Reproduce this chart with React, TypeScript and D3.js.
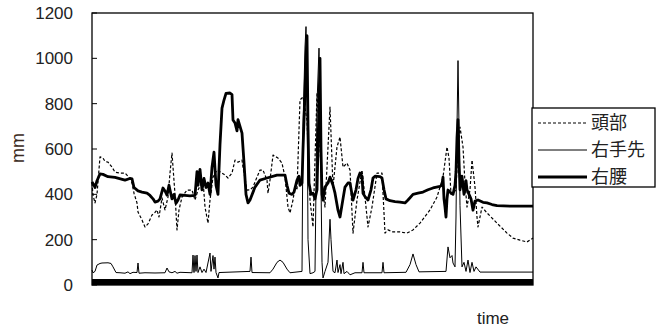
import * as d3 from "d3";

const WIDTH = 665;
const HEIGHT = 329;

// y axis ticks (mm)
const yTicks = [0, 200, 400, 600, 800, 1000, 1200];

// series: [time, mm]
const headData: [number, number][] = [
  [0, 450], [1, 397], [3, 362], [5, 400], [8, 565], [11, 560], [13, 545], [16, 542], [20, 520], [23, 498],
  [28, 494], [33, 494], [38, 470], [40, 450], [42, 405], [45, 362], [46, 322], [50, 287], [53, 256], [56, 270],
  [60, 309], [63, 320], [65, 331], [67, 300], [70, 384], [73, 331], [76, 388], [78, 494], [80, 582], [81, 520],
  [83, 400], [85, 243], [87, 331], [90, 388], [95, 419], [100, 419], [103, 375], [106, 419], [111, 463], [113, 344],
  [116, 273], [118, 375], [121, 476], [125, 507], [130, 494], [133, 485], [136, 472], [140, 494], [143, 551], [146, 542],
  [150, 551], [151, 520], [155, 419], [158, 420], [161, 432], [165, 476], [168, 507], [171, 507], [175, 463], [176, 405],
  [178, 463], [181, 573], [186, 560], [190, 538], [193, 476], [196, 344], [198, 318], [201, 375], [203, 432], [205, 419],
  [208, 816], [211, 830], [215, 728], [218, 375], [221, 256], [225, 847], [230, 432], [233, 344], [238, 785], [241, 432],
  [245, 609], [248, 653], [251, 520], [255, 538], [258, 507], [261, 229], [265, 375], [270, 507], [273, 388], [276, 256],
  [280, 344], [285, 494], [290, 494], [293, 229], [296, 243], [301, 234], [308, 234], [315, 229], [321, 243], [328, 273],
  [338, 331], [345, 388], [351, 476], [355, 609], [357, 560], [359, 400], [361, 405], [364, 420], [366, 600], [368, 697],
  [371, 609], [373, 450], [375, 344], [378, 420], [380, 551], [383, 432], [385, 300], [386, 256], [390, 344], [395, 318],
  [405, 273], [415, 229], [421, 207], [428, 198], [435, 190], [441, 207],
];

const handData: [number, number][] = [
  [0, 66], [1, 54], [3, 60], [5, 88], [8, 95], [10, 97], [16, 98], [19, 95], [21, 80], [24, 55],
  [28, 54], [33, 52], [36, 58], [38, 50], [41, 56], [45, 55], [46, 97], [47, 52], [53, 54], [63, 53],
  [73, 54], [75, 75], [77, 58], [80, 54], [83, 60], [85, 52], [88, 56], [100, 54], [101, 132], [102, 55],
  [103, 130], [104, 60], [105, 132], [106, 55], [108, 80], [110, 55], [112, 70], [114, 55], [118, 141], [119, 60],
  [121, 130], [122, 70], [123, 123], [124, 55], [126, 31], [127, 55], [158, 60], [159, 123], [160, 55], [178, 54],
  [181, 70], [185, 100], [188, 110], [191, 100], [195, 70], [198, 54], [210, 60], [211, 700], [213, 1050], [214, 1140],
  [215, 900], [216, 200], [218, 50], [221, 54], [223, 60], [225, 800], [227, 1045], [228, 800], [230, 100], [231, 31],
  [233, 60], [236, 100], [238, 290], [239, 200], [241, 60], [243, 54], [245, 110], [246, 55], [248, 90], [249, 50],
  [251, 100], [252, 50], [255, 60], [258, 45], [263, 54], [270, 54], [271, 100], [272, 54], [290, 54], [291, 100],
  [292, 54], [314, 56], [318, 90], [321, 137], [324, 90], [327, 58], [354, 60], [356, 168], [358, 120], [360, 130],
  [361, 97], [363, 80], [364, 300], [365, 700], [366, 990], [367, 700], [368, 350], [370, 80], [372, 100], [374, 60],
  [376, 110], [378, 55], [380, 100], [382, 60], [384, 80], [388, 57], [441, 57],
];

const waistData: [number, number][] = [
  [0, 455], [2, 440], [3, 430], [5, 460], [8, 490], [11, 488], [16, 478], [23, 475], [33, 463], [38, 470],
  [40, 468], [42, 430], [46, 415], [50, 410], [55, 405], [58, 395], [61, 380], [63, 366], [66, 370], [68, 380],
  [71, 428], [73, 415], [75, 397], [77, 440], [78, 419], [80, 380], [82, 400], [84, 360], [86, 375], [88, 397],
  [93, 395], [98, 393], [103, 395], [105, 500], [106, 440], [108, 510], [110, 420], [112, 470], [114, 430], [116, 450],
  [118, 400], [120, 520], [122, 586], [124, 440], [126, 400], [128, 620], [130, 780], [132, 816], [134, 845], [138, 847],
  [140, 840], [141, 728], [143, 715], [145, 680], [146, 730], [148, 700], [150, 670], [152, 540], [154, 400], [156, 362],
  [158, 375], [163, 432], [168, 463], [175, 472], [185, 485], [193, 485], [195, 440], [197, 405], [200, 400], [202, 410],
  [205, 463], [207, 480], [208, 440], [210, 450], [211, 600], [213, 850], [214, 1000], [215, 1100], [216, 700], [217, 450],
  [219, 400], [221, 405], [223, 380], [225, 420], [227, 800], [228, 1000], [229, 600], [230, 400], [231, 375], [233, 432],
  [236, 450], [238, 476], [241, 440], [243, 405], [246, 330], [248, 300], [251, 380], [253, 432], [256, 450], [258, 450],
  [261, 375], [264, 420], [266, 470], [268, 494], [270, 480], [271, 405], [273, 390], [276, 375], [279, 420], [281, 472],
  [283, 480], [288, 478], [290, 472], [292, 420], [294, 380], [298, 372], [303, 368], [308, 366], [313, 362], [316, 375],
  [321, 400], [326, 405], [331, 410], [336, 420], [341, 428], [348, 435], [350, 441], [351, 476], [352, 380], [353, 344],
  [354, 300], [355, 380], [356, 419], [358, 410], [361, 400], [363, 440], [364, 500], [365, 650], [366, 730], [367, 550],
  [368, 420], [370, 480], [372, 400], [374, 460], [375, 420], [377, 400], [379, 380], [381, 330], [383, 370], [386, 375],
  [391, 365], [395, 362], [400, 355], [405, 350], [418, 348], [441, 348],
];

const legendItems = [
  { label: "頭部", width: 1.2, dash: "3,2" },
  { label: "右手先", width: 1, dash: "" },
  { label: "右腰", width: 3, dash: "" },
];

const seriesList = [
  { key: "head", data: headData, width: 1.2, dash: "3,2" },
  { key: "hand", data: handData, width: 1, dash: "" },
  { key: "waist", data: waistData, width: 2.8, dash: "" },
];

const plot = { left: 92, right: 533, top: 13, bottom: 285 };
const numFont = "'Liberation Sans', Arial, sans-serif";
const cjkFont = "'Noto Sans CJK JP', sans-serif";

export default function App() {
  const x = d3.scaleLinear().domain([0, 441]).range([plot.left, plot.right]);
  const y = d3.scaleLinear().domain([0, 1200]).range([plot.bottom, plot.top]);
  const line = d3
    .line<[number, number]>()
    .x((d) => x(d[0]))
    .y((d) => y(d[1]));

  return (
    <svg
      width={WIDTH}
      height={HEIGHT}
      style={{ position: "absolute", left: 0, top: 0, background: "#fff" }}
    >
      {seriesList.map((s) => (
        <path
          key={s.key}
          d={line(s.data) ?? ""}
          fill="none"
          stroke="#000"
          strokeWidth={s.width}
          strokeDasharray={s.dash || undefined}
          strokeLinejoin="round"
        />
      ))}
      {/* thick baseline band */}
      <rect x={plot.left} y={y(0) - 6} width={plot.right - plot.left} height={6} fill="#000" />
      <rect
        x={plot.left}
        y={plot.top}
        width={plot.right - plot.left}
        height={plot.bottom - plot.top}
        fill="none"
        stroke="#000"
        strokeWidth={1.3}
      />
      {yTicks.map((t) => (
        <g key={t}>
          <line x1={plot.left} x2={plot.left + 5} y1={y(t)} y2={y(t)} stroke="#000" strokeWidth={1} />
          <text
            x={73}
            y={y(t)}
            dy="0.36em"
            textAnchor="end"
            fontFamily={numFont}
            fontSize={17}
            fill="#222"
          >
            {t}
          </text>
        </g>
      ))}
      <text
        transform="translate(18,148) rotate(-90)"
        textAnchor="middle"
        dy="0.35em"
        fontFamily={numFont}
        fontSize={18}
        fill="#3a2a22"
      >
        mm
      </text>
      <text x={493} y={324} textAnchor="middle" fontFamily={numFont} fontSize={17} fill="#222">
        time
      </text>
      <g>
        <rect x={532} y={108} width={123} height={79} fill="#fff" stroke="#000" strokeWidth={1.3} />
        {legendItems.map((it, i) => {
          const ly = 123 + i * 27;
          return (
            <g key={it.label}>
              <line
                x1={538}
                x2={587}
                y1={ly}
                y2={ly}
                stroke="#000"
                strokeWidth={it.width}
                strokeDasharray={it.dash || undefined}
              />
              <text x={591} y={ly} dy="0.36em" fontFamily={cjkFont} fontSize={18} fill="#222">
                {it.label}
              </text>
            </g>
          );
        })}
      </g>
    </svg>
  );
}
